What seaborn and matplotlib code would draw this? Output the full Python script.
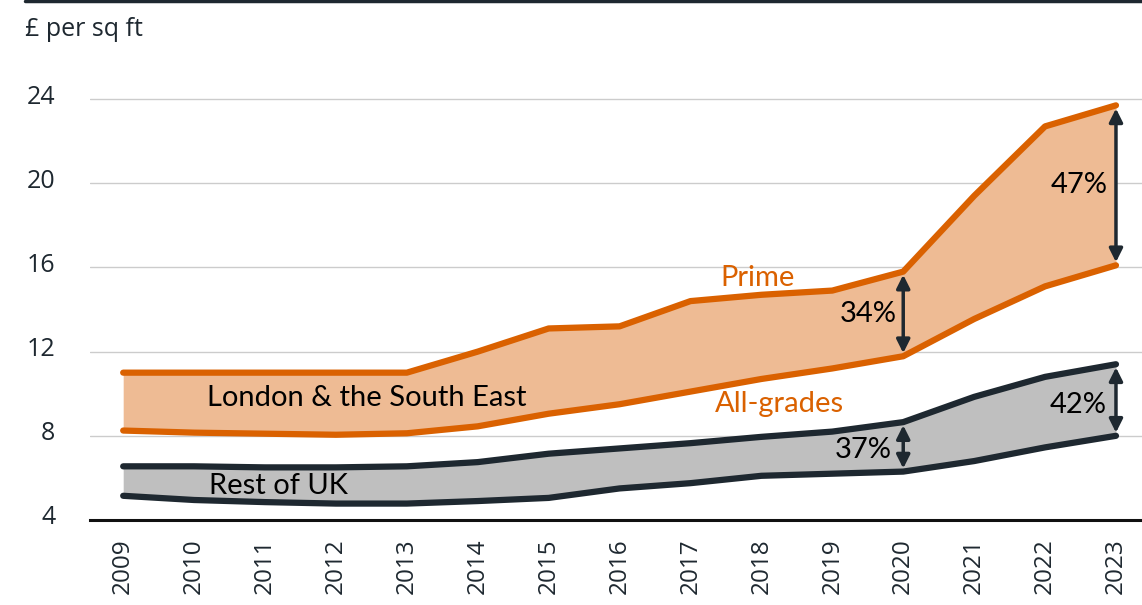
import numpy as np
import matplotlib.pyplot as plt
import matplotlib.transforms as mtransforms
import pandas as pd
import seaborn as sns

years = list(range(2009, 2024))
london_prime = [11.0, 11.0, 11.0, 11.0, 11.0, 12.0, 13.1, 13.2, 14.4, 14.7, 14.9, 15.8, 19.4, 22.7, 23.7]
london_all = [8.25, 8.15, 8.1, 8.05, 8.12, 8.45, 9.05, 9.5, 10.1, 10.7, 11.2, 11.78, 13.55, 15.1, 16.1]
rest_prime = [6.55, 6.55, 6.5, 6.5, 6.55, 6.75, 7.15, 7.4, 7.65, 7.95, 8.2, 8.65, 9.85, 10.8, 11.4]
rest_all = [5.15, 4.95, 4.85, 4.78, 4.78, 4.9, 5.05, 5.5, 5.75, 6.1, 6.2, 6.3, 6.8, 7.45, 8.0]
yticks = [4, 8, 12, 16, 20, 24]

orange = "#DA6100"
orange_fill = "#EEBB94"
dark = "#1E2830"
grey_fill = "#BFBFBF"

df = pd.DataFrame({"year": years, "lp": london_prime, "la": london_all,
                   "rp": rest_prime, "ra": rest_all})

sns.set_style("white")
plt.rcParams["font.family"] = ["Open Sans", "DejaVu Sans"]

fig = plt.figure(figsize=(11.42, 6.05), dpi=100)
ax = fig.add_axes([0.079, 0.1405, 0.921, 0.7306])

ax.fill_between(df["year"], df["la"], df["lp"], color=orange_fill, lw=0, zorder=1)
ax.fill_between(df["year"], df["ra"], df["rp"], color=grey_fill, lw=0, zorder=1)
for col, c in [("lp", orange), ("la", orange), ("rp", dark), ("ra", dark)]:
    sns.lineplot(data=df, x="year", y=col, ax=ax, color=c, lw=4.5,
                 solid_capstyle="round", zorder=3)

ax.set_xlim(2008.535, 2023.367)
ax.set_ylim(4, 25)
ax.set_yticks(yticks)
ax.set_xticks(years)
ax.set_xticklabels([str(y) for y in years], rotation=90, fontsize=17.5, color="#1E2830")
ax.set_yticklabels([str(t) for t in yticks], fontsize=18, color="#1E2830")
ax.tick_params(axis="y", length=0, pad=25)
ax.tick_params(axis="x", length=0, pad=13)
# labels sit a little above their gridlines
shift = mtransforms.ScaledTranslation(0, 5 / 100, fig.dpi_scale_trans)
for lbl in ax.get_yticklabels():
    lbl.set_transform(lbl.get_transform() + shift)
ax.set_xlabel(None)
ax.set_ylabel(None)
for t in yticks[1:]:
    ax.axhline(t, color="#CCCCCC", lw=1, zorder=0)
for s in ["top", "right", "left"]:
    ax.spines[s].set_visible(False)
ax.spines["bottom"].set_color("#111111")
ax.spines["bottom"].set_linewidth(2.2)

# arrows
arrows = [(2020, london_prime[11], london_all[11]),
          (2023, london_prime[14], london_all[14]),
          (2020, rest_prime[11], rest_all[11]),
          (2023, rest_prime[14], rest_all[14])]
for x, top, bot in arrows:
    ax.annotate("", xy=(x, top - 0.15), xytext=(x, bot + 0.15),
                arrowprops=dict(arrowstyle="<|-|>", color=dark, lw=2.5,
                                mutation_scale=20, shrinkA=0, shrinkB=0), zorder=4)

lab = ["Lato", "DejaVu Sans"]
fs = 21
ax.text(2019.5, 13.8, "34%", fontsize=fs, ha="center", va="center", color="black", family=lab)
ax.text(2022.48, 19.9, "47%", fontsize=fs, ha="center", va="center", color="black", family=lab)
ax.text(2022.46, 9.46, "42%", fontsize=fs, ha="center", va="center", color="black", family=lab)
ax.text(2019.43, 7.33, "37%", fontsize=fs, ha="center", va="center", color="black", family=lab)
ax.text(2012.44, 9.8, "London & the South East", fontsize=fs, ha="center", va="center", color="black", family=lab)
ax.text(2011.19, 5.6, "Rest of UK", fontsize=fs, ha="center", va="center", color="black", family=lab)
ax.text(2017.94, 15.5, "Prime", fontsize=fs, ha="center", va="center", color=orange, family=lab)
ax.text(2018.26, 9.5, "All-grades", fontsize=fs, ha="center", va="center", color=orange, family=lab)

fig.text(0.022, 0.951, "£ per sq ft", fontsize=18, ha="left", va="center", color="#1E2830")
fig.add_artist(plt.Line2D([0.022, 1.0], [0.998, 0.998], color="#1E2830", lw=2.5))

fig.savefig("out.png", dpi=100)
